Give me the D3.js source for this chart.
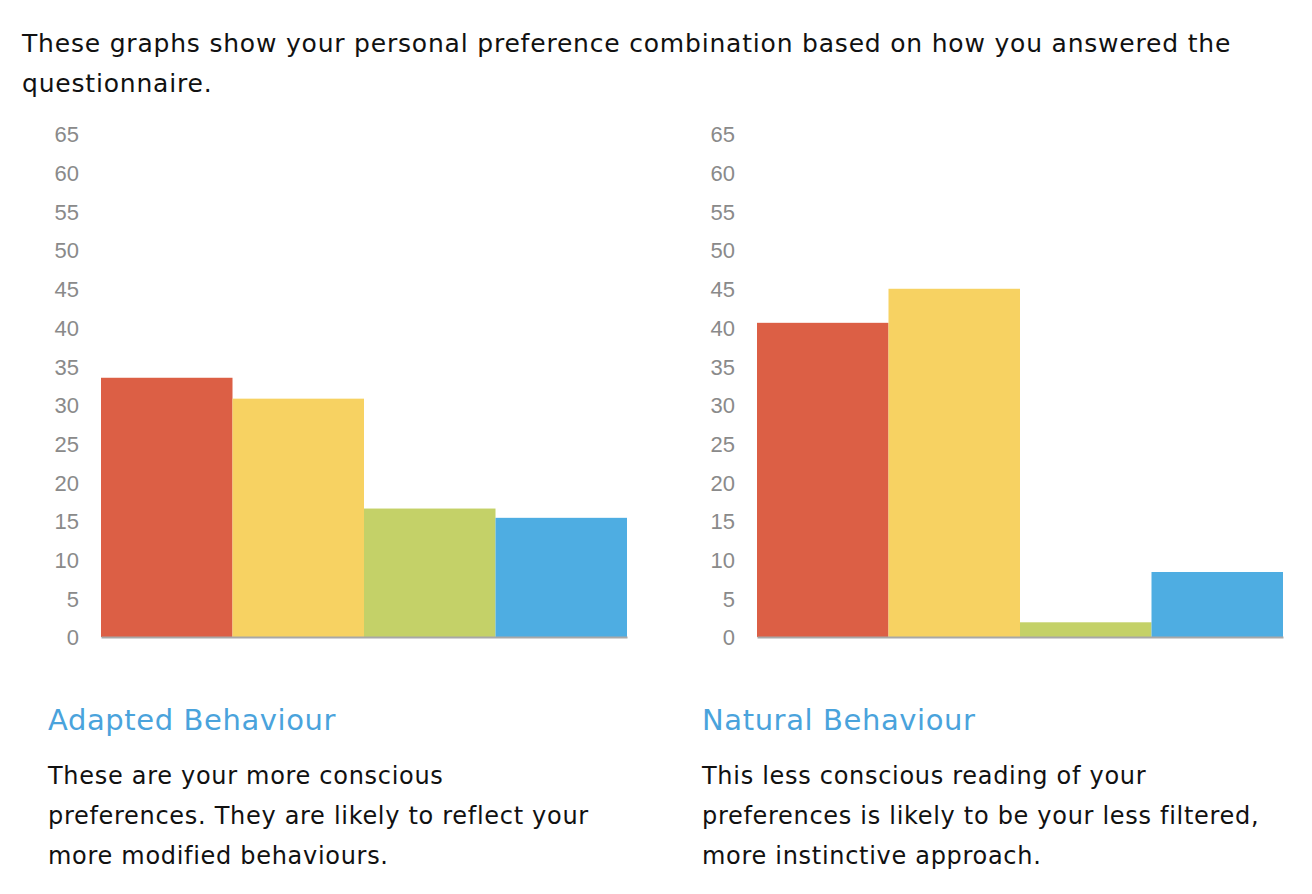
<!DOCTYPE html>
<html>
<head>
<meta charset="utf-8">
<script src="https://cdn.jsdelivr.net/npm/d3@7"></script>
<style>
  html, body { margin: 0; padding: 0; background: #fff; }
  svg { display: block; }
  .body-text { font-family: "DejaVu Sans", "Noto Sans", sans-serif; fill: #111; }
  .tick text { font-family: "Liberation Sans", Arial, sans-serif; fill: #8a8a8a; }
</style>
</head>
<body>
<svg id="page"></svg>
<script>
// chart data
const categories = ["A", "B", "C", "D"];
const adaptedValues = [33.5, 30.8, 16.6, 15.4];
const naturalValues = [40.6, 45.0, 1.9, 8.4];
const barColors = ["#dc5f45", "#f7d262", "#c4d168", "#4eade2"];
const yTicks = d3.range(0, 70, 5);

const introLines = [
  "These graphs show your personal preference combination based on how you answered the",
  "questionnaire."
];
const panels = [
  { title: "Adapted Behaviour", values: adaptedValues, x: 101, textX: 48,
    desc: ["These are your more conscious", "preferences. They are likely to reflect your", "more modified behaviours."] },
  { title: "Natural Behaviour", values: naturalValues, x: 757, textX: 702,
    desc: ["This less conscious reading of your", "preferences is likely to be your less filtered,", "more instinctive approach."] }
];

const W = 1312, H = 894;
const svg = d3.select("#page").attr("width", W).attr("height", H);

// intro paragraph
svg.selectAll("text.intro")
  .data(introLines)
  .enter()
  .append("text")
  .attr("class", "intro body-text")
  .attr("x", 22)
  .attr("y", (d, i) => 52 + i * 40)
  .attr("font-size", 25)
  .attr("letter-spacing", 0.8)
  .text(d => d);

const chartW = 526, chartTop = 134, chartBottom = 637;

panels.forEach(p => {
  const g = svg.append("g").attr("transform", `translate(${p.x},0)`);

  const xscale = d3.scaleBand().domain(categories).range([0, chartW]).padding(0);
  const yscale = d3.scaleLinear().domain([0, 65]).range([chartBottom, chartTop]);

  const yaxis = d3.axisLeft(yscale).tickValues(yTicks).tickSize(0).tickPadding(22);
  const yg = g.append("g").call(yaxis);
  yg.select(".domain").remove();
  yg.selectAll("text").attr("font-size", 22).attr("dy", "0.36em");

  g.selectAll("rect")
    .data(p.values)
    .enter()
    .append("rect")
    .attr("x", (d, i) => xscale(categories[i]))
    .attr("width", xscale.bandwidth())
    .attr("y", d => yscale(d))
    .attr("height", d => yscale(0) - yscale(d))
    .attr("fill", (d, i) => barColors[i]);

  const xaxis = d3.axisBottom(xscale).tickSize(0).tickFormat("");
  const xg = g.append("g").attr("transform", `translate(0,${chartBottom})`).call(xaxis);
  xg.select(".domain").attr("stroke", "#a8a8a8").attr("stroke-width", 2);

  svg.append("text")
    .attr("class", "body-text")
    .attr("x", p.textX)
    .attr("y", 730)
    .attr("font-size", 29)
    .attr("letter-spacing", 0.6)
    .style("fill", "#4aa3dc")
    .text(p.title);

  svg.selectAll(null)
    .data(p.desc)
    .enter()
    .append("text")
    .attr("class", "body-text")
    .attr("x", p.textX)
    .attr("y", (d, i) => 784 + i * 40)
    .attr("font-size", 24)
    .attr("letter-spacing", 0.7)
    .text(d => d);
});
</script>
</body>
</html>
